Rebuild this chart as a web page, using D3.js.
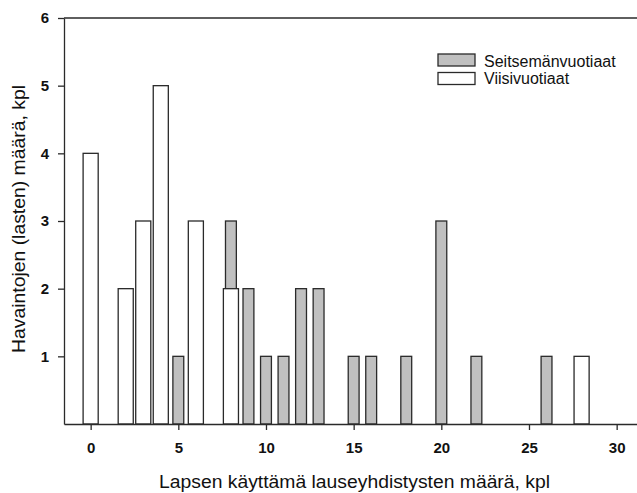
<!DOCTYPE html>
<html>
<head>
<meta charset="utf-8">
<script src="https://cdn.jsdelivr.net/npm/d3@7"></script>
<style>
  body { margin: 0; background: #fff; }
  svg { display: block; }
</style>
</head>
<body>
<svg id="chart" width="637" height="493"></svg>
<script>
// Data
const seriesNames = ["Seitsemänvuotiaat", "Viisivuotiaat"];
const sevenX = [5, 8, 9, 10, 11, 12, 13, 15, 16, 18, 20, 22, 26];
const sevenY = [1, 3, 2, 1, 1, 2, 2, 1, 1, 1, 3, 1, 1];
const fiveX = [0, 2, 3, 4, 6, 8, 28];
const fiveY = [4, 2, 3, 5, 3, 2, 1];
const xTicks = [0, 5, 10, 15, 20, 25, 30];
const yTicks = [1, 2, 3, 4, 5, 6];
const xTitle = "Lapsen käyttämä lauseyhdistysten määrä, kpl";
const yTitle = "Havaintojen (lasten) määrä, kpl";

(function () {
const FONT = "'Liberation Sans', Arial, sans-serif";
const svg = d3.select("#chart");

const pL = 64, pR = 637, pT = 18, pB = 424;
const x = d3.scaleLinear().domain([-1.52, 31.16]).range([pL, pR]);
const y = d3.scaleLinear().domain([0, 6]).range([pB, pT]);

const wFive = 0.86, wSeven = 0.62;
const stroke = "#2a2a2a";

const seven = sevenX.map((v, i) => ({x: v, y: sevenY[i]}));
const five = fiveX.map((v, i) => ({x: v, y: fiveY[i]}));

svg.append("g").selectAll("rect").data(seven).join("rect")
  .attr("x", d => x(d.x - wSeven / 2))
  .attr("width", d => x(d.x + wSeven / 2) - x(d.x - wSeven / 2))
  .attr("y", d => y(d.y))
  .attr("height", d => y(0) - y(d.y))
  .attr("fill", "#c0c0c0")
  .attr("stroke", stroke)
  .attr("stroke-width", 1.3);

svg.append("g").selectAll("rect").data(five).join("rect")
  .attr("x", d => x(d.x - wFive / 2))
  .attr("width", d => x(d.x + wFive / 2) - x(d.x - wFive / 2))
  .attr("y", d => y(d.y))
  .attr("height", d => y(0) - y(d.y))
  .attr("fill", "#ffffff")
  .attr("stroke", stroke)
  .attr("stroke-width", 1.3);

svg.append("line")
  .attr("x1", pL).attr("x2", pR)
  .attr("y1", y(6)).attr("y2", y(6))
  .attr("stroke", stroke).attr("stroke-width", 1.3);

const xAxis = svg.append("g")
  .attr("transform", `translate(0,${pB})`)
  .call(d3.axisBottom(x).tickValues(xTicks).tickFormat(d3.format("d"))
        .tickSize(6).tickSizeOuter(0).tickPadding(12.5));
const yAxis = svg.append("g")
  .attr("transform", `translate(${pL},0)`)
  .call(d3.axisLeft(y).tickValues(yTicks).tickFormat(d3.format("d"))
        .tickSize(6).tickSizeOuter(0).tickPadding(9));

[xAxis, yAxis].forEach(g => {
  g.select(".domain").attr("stroke", stroke).attr("stroke-width", 1.3);
  g.selectAll(".tick line").attr("stroke", stroke).attr("stroke-width", 1.3);
  g.selectAll(".tick text")
    .attr("fill", "#111")
    .style("font-family", FONT)
    .style("font-size", "15px")
    .style("font-weight", "bold");
});

svg.append("text")
  .attr("x", 354.5).attr("y", 488.3)
  .attr("text-anchor", "middle")
  .attr("textLength", 391).attr("lengthAdjust", "spacingAndGlyphs")
  .style("font-family", FONT).style("font-size", "17.5px")
  .attr("fill", "#111")
  .text(xTitle);

svg.append("text")
  .attr("transform", `translate(24.5,219) rotate(-90)`)
  .attr("text-anchor", "middle")
  .attr("textLength", 268).attr("lengthAdjust", "spacingAndGlyphs")
  .style("font-family", FONT).style("font-size", "18px")
  .attr("fill", "#111")
  .text(yTitle);

const legend = svg.append("g");
const legendFills = ["#c0c0c0", "#ffffff"];
const rectY = [54, 72.5], textY = [66.5, 83.5];
seriesNames.forEach((name, i) => {
  legend.append("rect")
    .attr("x", 438).attr("y", rectY[i])
    .attr("width", 37).attr("height", 12)
    .attr("fill", legendFills[i])
    .attr("stroke", stroke).attr("stroke-width", 1.3);
  legend.append("text")
    .attr("x", 484).attr("y", textY[i])
    .style("font-family", FONT).style("font-size", "16px")
    .attr("fill", "#111")
    .text(name);
});
})();
</script>
</body>
</html>
